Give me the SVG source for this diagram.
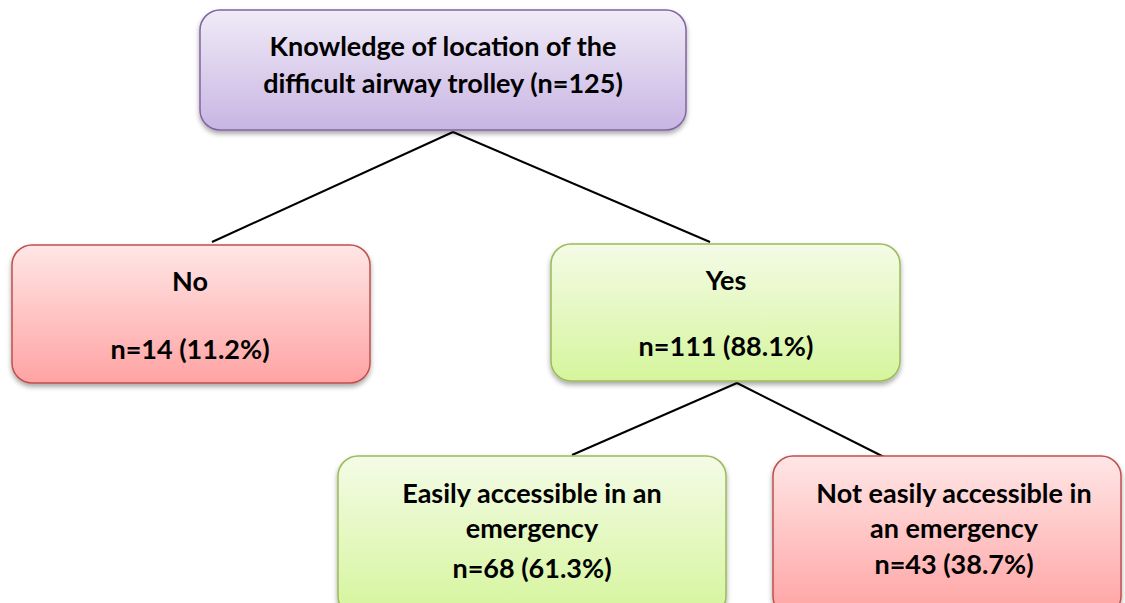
<svg xmlns="http://www.w3.org/2000/svg" width="1125" height="603" viewBox="0 0 1125 603">
<defs>
<linearGradient id="gP" x1="0" y1="0" x2="0" y2="1"><stop offset="0" stop-color="#f0ebf7"/><stop offset="1" stop-color="#c8b5e3"/></linearGradient>
<linearGradient id="gR" x1="0" y1="0" x2="0" y2="1"><stop offset="0" stop-color="#ffe6e6"/><stop offset="1" stop-color="#ffa3a3"/></linearGradient>
<linearGradient id="gG" x1="0" y1="0" x2="0" y2="1"><stop offset="0" stop-color="#f4fbe6"/><stop offset="1" stop-color="#d5f59c"/></linearGradient>
<filter id="sh" x="-10%" y="-10%" width="120%" height="130%"><feDropShadow dx="0" dy="3" stdDeviation="2.5" flood-color="#000" flood-opacity="0.35"/></filter>
</defs>
<style>
.t{font-family:Lato,"Open Sans","Liberation Sans",sans-serif;font-weight:bold;font-size:27px;fill:#000;text-anchor:middle}
.p{fill:url(#gP);stroke:#8064a2;stroke-width:1.5;filter:url(#sh)}
.r{fill:url(#gR);stroke:#c0504d;stroke-width:1.5;filter:url(#sh)}
.g{fill:url(#gG);stroke:#9bbb59;stroke-width:1.5;filter:url(#sh)}
.c{stroke:#000;stroke-width:2;fill:none}
</style>
<rect width="1125" height="603" fill="#fff"/>
<g id="connectors">
<line class="c" x1="453" y1="132" x2="212" y2="242"/>
<line class="c" x1="453" y1="132" x2="710" y2="242"/>
<line class="c" x1="737" y1="383" x2="572" y2="455"/>
<line class="c" x1="737" y1="383" x2="884" y2="457"/>
</g>
<g id="root">
<rect class="p" x="200" y="10" width="486" height="120" rx="20"/>
<text class="t" x="443" y="56">Knowledge of location of the</text>
<text class="t" x="443" y="93">difficult airway trolley (n=125)</text>
</g>
<g id="no">
<rect class="r" x="12" y="245" width="358" height="138" rx="20"/>
<text class="t" x="190" y="291">No</text>
<text class="t" x="190" y="359">n=14 (11.2%)</text>
</g>
<g id="yes">
<rect class="g" x="551" y="244" width="349" height="137" rx="20"/>
<text class="t" x="726" y="290">Yes</text>
<text class="t" x="726" y="356">n=111 (88.1%)</text>
</g>
<g id="easy">
<rect class="g" x="338" y="456" width="388" height="160" rx="20"/>
<text class="t" x="532" y="503">Easily accessible in an</text>
<text class="t" x="532" y="538">emergency</text>
<text class="t" x="532" y="578">n=68 (61.3%)</text>
</g>
<g id="noteasy">
<rect class="r" x="773" y="456" width="348" height="160" rx="20"/>
<text class="t" x="954" y="503">Not easily accessible in</text>
<text class="t" x="954" y="538">an emergency</text>
<text class="t" x="954" y="574">n=43 (38.7%)</text>
</g>
</svg>
